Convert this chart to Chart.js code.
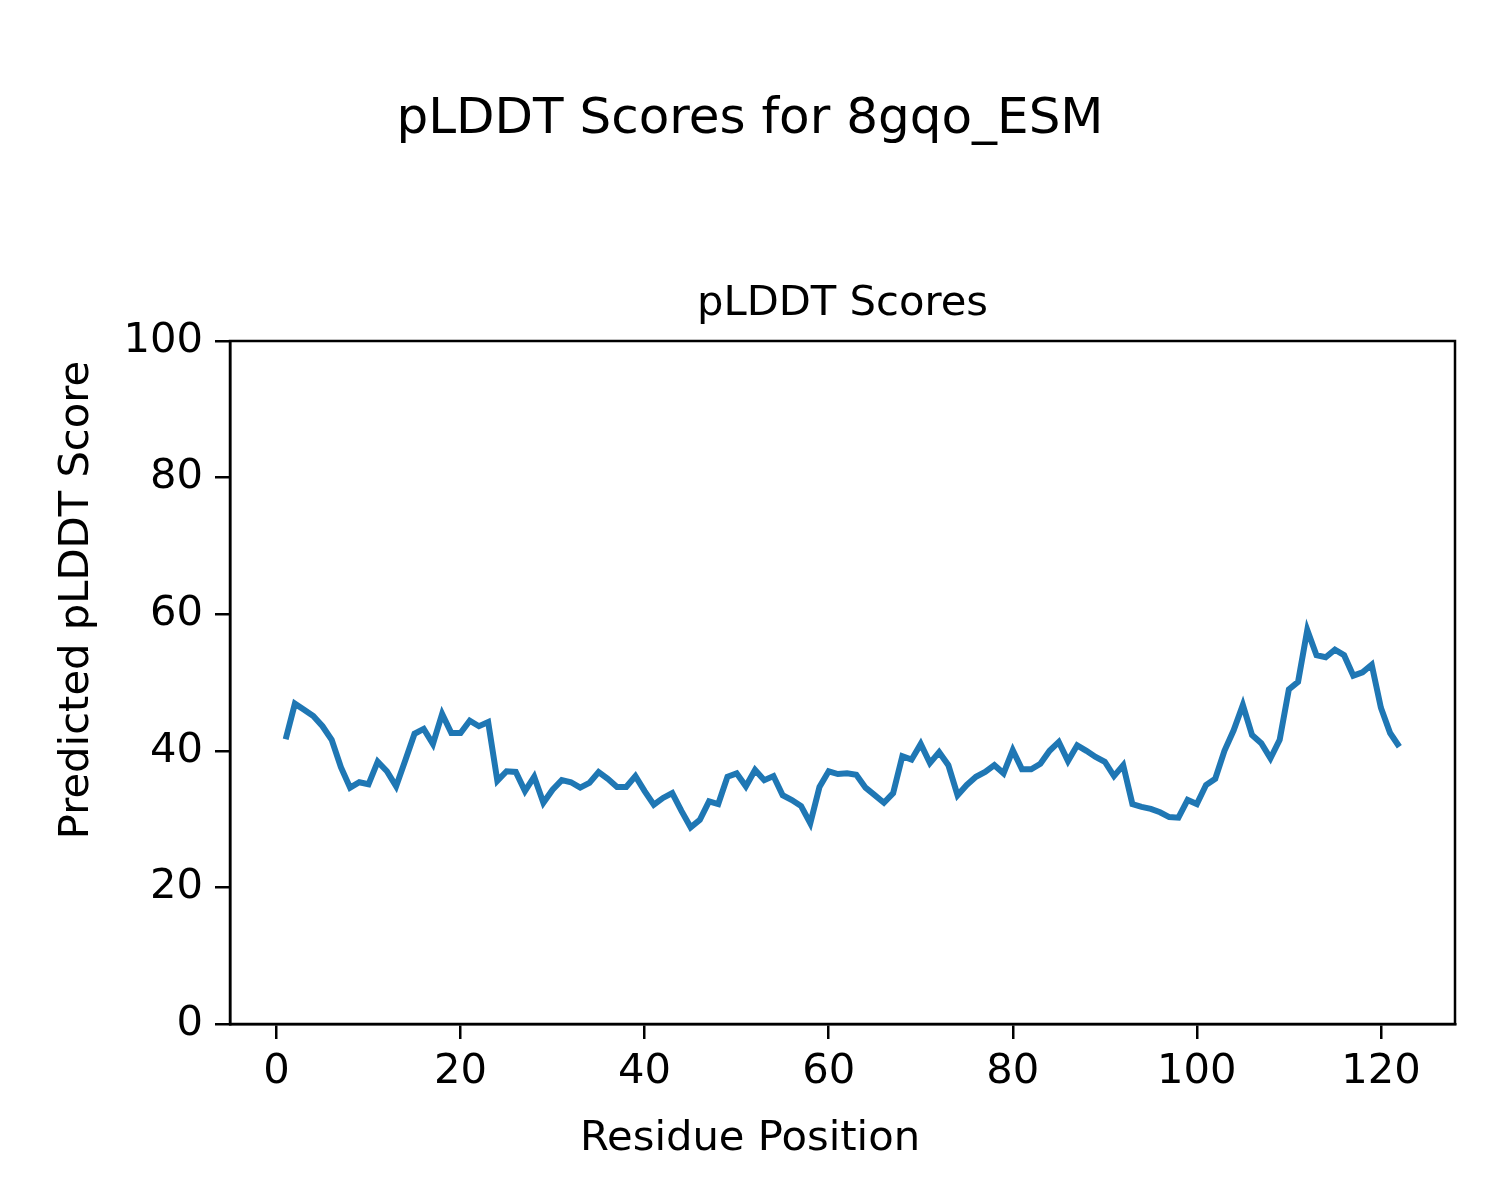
<!DOCTYPE html>
<html>
<head>
<meta charset="utf-8">
<script src="https://cdn.jsdelivr.net/npm/chart.js@4"></script>
<style>
  body { margin: 0; background: #fff; }
  #wrap { width: 1500px; height: 1200px; }
</style>
</head>
<body>
<div id="wrap"><canvas id="myChart" width="1500" height="1200"></canvas></div>
<script>
const figTitle = "pLDDT Scores for 8gqo_ESM";
const axTitle = "pLDDT Scores";
const xLabel = "Residue Position";
const yLabel = "Predicted pLDDT Score";

const xTicks = [0, 20, 40, 60, 80, 100, 120];
const yTicks = [0, 20, 40, 60, 80, 100];

// pLDDT per residue, residues 1..122
const scores = [
  41.7, 46.9, 46.0, 45.1, 43.6, 41.6, 37.6, 34.6, 35.4, 35.1,
  38.4, 37.0, 34.8, 38.6, 42.5, 43.2, 41.0, 45.4, 42.6, 42.6,
  44.4, 43.6, 44.2, 35.6, 37.0, 36.9, 34.1, 36.2, 32.4, 34.3,
  35.7, 35.4, 34.6, 35.3, 36.9, 35.9, 34.7, 34.7, 36.3, 34.1,
  32.1, 33.1, 33.8, 31.2, 28.8, 29.9, 32.6, 32.2, 36.2, 36.7,
  34.8, 37.2, 35.7, 36.3, 33.5, 32.8, 31.9, 29.4, 34.7, 37.0,
  36.6, 36.7, 36.5, 34.6, 33.5, 32.4, 33.8, 39.2, 38.7, 41.0,
  38.2, 39.8, 37.9, 33.5, 35.0, 36.2, 36.9, 37.9, 36.7, 40.1,
  37.3, 37.3, 38.1, 40.0, 41.3, 38.5, 40.8, 40.0, 39.1, 38.4,
  36.3, 37.9, 32.2, 31.8, 31.5, 31.0, 30.3, 30.2, 32.8, 32.2,
  35.0, 35.9, 40.0, 43.0, 46.7, 42.3, 41.1, 38.9, 41.6, 49.0,
  50.1, 57.7, 54.0, 53.7, 54.8, 54.0, 51.0, 51.5, 52.6, 46.3,
  42.6, 40.6
];

const residues = scores.map((s, i) => i + 1);
const points = scores.map((s, i) => ({ x: residues[i], y: s }));

const FONT = "'DejaVu Sans', sans-serif";
const LABEL_FONT = "41.7px " + FONT;

// frame, axes title (centred on the axes) and figure-level x/y labels
const figureText = {
  id: "figureText",
  afterDraw(chart) {
    const a = chart.chartArea;
    const ctx = chart.ctx;
    ctx.save();
    ctx.strokeStyle = "#000";
    ctx.lineWidth = 2.5;
    ctx.strokeRect(a.left, a.top, a.right - a.left, a.bottom - a.top);

    ctx.fillStyle = "#000";
    ctx.font = LABEL_FONT;
    ctx.textAlign = "center";
    ctx.textBaseline = "middle";
    ctx.fillText(axTitle, (a.left + a.right) / 2, 304);
    ctx.fillText(xLabel, chart.width / 2, 1139);

    ctx.translate(77, chart.height / 2);
    ctx.rotate(-Math.PI / 2);
    ctx.fillText(yLabel, 0, 0);
    ctx.restore();
  }
};

const config = {
  type: "line",
  data: {
    datasets: [{
      data: points,
      borderColor: "#1f77b4",
      borderWidth: 6,
      pointRadius: 0,
      tension: 0,
      fill: false,
    }],
  },
  options: {
    responsive: false,
    animation: false,
    layout: { padding: 0 },
    plugins: {
      legend: { display: false },
      tooltip: { enabled: false },
      title: {
        display: true,
        text: figTitle,
        color: "#000",
        font: { family: FONT, size: 50, weight: "normal" },
        padding: { top: 90, bottom: 191 },
      },
    },
    scales: {
      x: {
        type: "linear",
        min: -5.05,
        max: 128.05,
        afterBuildTicks: scale => { scale.ticks = xTicks.map(v => ({ value: v })); },
        afterFit: scale => { scale.height = 176; },
        ticks: {
          color: "#000",
          font: { family: FONT, size: 41.7 },
          padding: 8,
          maxRotation: 0,
        },
        grid: { drawOnChartArea: false, drawTicks: true, tickLength: 15, color: "#000", lineWidth: 2.5 },
        border: { display: true, color: "#000", width: 2.5 },
      },
      y: {
        type: "linear",
        min: 0,
        max: 100,
        afterBuildTicks: scale => { scale.ticks = yTicks.map(v => ({ value: v })); },
        afterFit: scale => { scale.width = 230; },
        ticks: {
          color: "#000",
          font: { family: FONT, size: 41.7 },
          padding: 12,
        },
        grid: { drawOnChartArea: false, drawTicks: true, tickLength: 15, color: "#000", lineWidth: 2.5 },
        border: { display: true, color: "#000", width: 2.5 },
      },
      // empty right-hand strip so the figure title stays centred on the page
      yRight: {
        position: "right",
        afterFit: scale => { scale.width = 45; },
        ticks: { display: false },
        grid: { display: false },
        border: { display: false },
      },
    },
  },
  plugins: [figureText],
};

const ctx = document.getElementById("myChart");
const myChart = new Chart(ctx, config);
</script>
</body>
</html>
